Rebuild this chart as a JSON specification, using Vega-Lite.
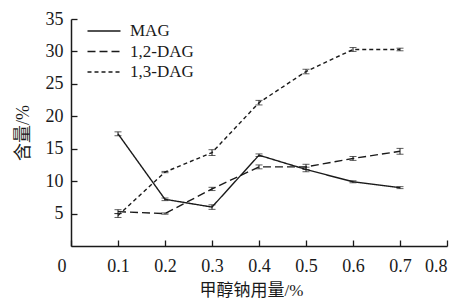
{
  "$schema": "https://vega.github.io/schema/vega-lite/v6.json",
  "width": 376,
  "height": 227,
  "autosize": "none",
  "padding": {"left": 71, "top": 19, "right": 17, "bottom": 53},
  "config": {
    "view": {"stroke": null},
    "font": "Liberation Serif, Noto Sans CJK SC",
    "axis": {
      "grid": false,
      "domainColor": "#1a1a1a",
      "domainWidth": 1.5,
      "tickColor": "#1a1a1a",
      "tickWidth": 1.3,
      "tickSize": -6,
      "labelColor": "#1a1a1a",
      "labelFontSize": 18,
      "labelFont": "Liberation Serif",
      "labelOverlap": false,
      "titleColor": "#1a1a1a",
      "titleFontSize": 17,
      "titleFontWeight": "normal",
      "titleFont": "Liberation Serif, Noto Sans CJK SC"
    },
    "legend": {
      "labelFont": "Liberation Serif",
      "labelFontSize": 18,
      "labelColor": "#1a1a1a"
    }
  },
  "data": {
    "values": [
      {"x": 0.1, "series": "MAG", "y": 17.3, "err": 0.3},
      {"x": 0.2, "series": "MAG", "y": 7.2, "err": 0.2},
      {"x": 0.3, "series": "MAG", "y": 6.0, "err": 0.35},
      {"x": 0.4, "series": "MAG", "y": 14.0, "err": 0.2},
      {"x": 0.5, "series": "MAG", "y": 11.8, "err": 0.35},
      {"x": 0.6, "series": "MAG", "y": 9.9, "err": 0.15},
      {"x": 0.7, "series": "MAG", "y": 9.0, "err": 0.15},
      {"x": 0.1, "series": "1,2-DAG", "y": 5.3, "err": 0.3},
      {"x": 0.2, "series": "1,2-DAG", "y": 5.0, "err": 0.1},
      {"x": 0.3, "series": "1,2-DAG", "y": 8.8, "err": 0.25},
      {"x": 0.4, "series": "1,2-DAG", "y": 12.2, "err": 0.3},
      {"x": 0.5, "series": "1,2-DAG", "y": 12.2, "err": 0.4},
      {"x": 0.6, "series": "1,2-DAG", "y": 13.5, "err": 0.3},
      {"x": 0.7, "series": "1,2-DAG", "y": 14.6, "err": 0.45},
      {"x": 0.1, "series": "1,3-DAG", "y": 4.7, "err": 0.3},
      {"x": 0.2, "series": "1,3-DAG", "y": 11.4, "err": 0.1},
      {"x": 0.3, "series": "1,3-DAG", "y": 14.4, "err": 0.45},
      {"x": 0.4, "series": "1,3-DAG", "y": 22.1, "err": 0.35},
      {"x": 0.5, "series": "1,3-DAG", "y": 26.9, "err": 0.35},
      {"x": 0.6, "series": "1,3-DAG", "y": 30.3, "err": 0.3},
      {"x": 0.7, "series": "1,3-DAG", "y": 30.3, "err": 0.2}
    ]
  },
  "encoding": {
    "x": {
      "field": "x",
      "type": "quantitative",
      "scale": {"domain": [0, 0.8], "nice": false},
      "axis": {
        "values": [0, 0.1, 0.2, 0.3, 0.4, 0.5, 0.6, 0.7, 0.8],
        "labelExpr": "datum.value == 0 ? '0' : format(datum.value, '.1f')",
        "labelOffset": {"condition": {"test": "datum.value == 0", "value": -14}, "value": 0},
        "labelPadding": 17,
        "title": "甲醇钠用量/%",
        "titlePadding": 7,
        "titleX": 180
      }
    },
    "y": {
      "field": "y",
      "type": "quantitative",
      "scale": {"domain": [0, 35], "nice": false},
      "axis": {
        "values": [5, 10, 15, 20, 25, 30, 35],
        "labelPadding": 14,
        "title": "含量/%",
        "titleFontSize": 18,
        "titlePadding": 13
      }
    }
  },
  "layer": [
    {
      "mark": {"type": "line", "color": "#1a1a1a", "strokeWidth": 1.4},
      "encoding": {
        "strokeDash": {
          "field": "series",
          "type": "nominal",
          "scale": {
            "domain": ["MAG", "1,2-DAG", "1,3-DAG"],
            "range": [[1, 0], [8, 4], [4, 3]]
          },
          "legend": {
            "title": null,
            "orient": "none",
            "legendX": 21,
            "legendY": 0,
            "symbolType": "M-1.5,0L1.5,0",
            "symbolSize": 484,
            "symbolStrokeColor": "#1a1a1a",
            "symbolStrokeWidth": 1.4,
            "labelOffset": 14,
            "labelFontSize": 17,
            "labelLimit": 200,
            "rowPadding": 0.5,
            "symbolOffset": 0
          }
        }
      }
    },
    {
      "mark": {"type": "errorbar", "ticks": {"size": 7}, "color": "#1a1a1a", "thickness": 1},
      "encoding": {
        "yError": {"field": "err"}
      }
    }
  ]
}
